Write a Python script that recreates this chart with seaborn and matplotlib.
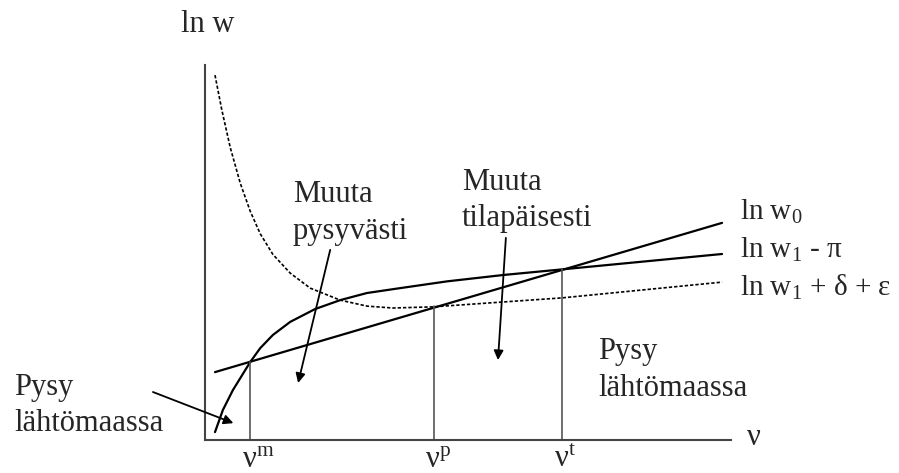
import matplotlib
matplotlib.use("Agg")
import matplotlib.pyplot as plt
import seaborn as sns

# kaavion käyrät (luettu kuvasta, kaavion omissa yksiköissä)
w0_x = [0.19, 9.83]
w0_y = [1.81, 5.79]

w1_pi_x = [0.19, 0.34, 0.53, 0.86, 1.05, 1.29, 1.62, 2.09, 2.57, 3.08,
           3.71, 4.60, 5.67, 6.79, 9.83]
w1_pi_y = [0.21, 0.80, 1.33, 2.08, 2.45, 2.80, 3.15, 3.49, 3.73, 3.92,
           4.05, 4.23, 4.40, 4.55, 4.96]

w1_de_x = [0.19, 0.32, 0.48, 0.67, 0.86, 1.05, 1.29, 1.62, 2.00, 2.57,
           3.08, 3.57, 4.33, 6.79, 9.83]
w1_de_y = [9.73, 8.80, 7.80, 6.85, 6.10, 5.50, 4.95, 4.45, 4.05, 3.73,
           3.57, 3.52, 3.55, 3.79, 4.21]

# kynnysarvot nu^m, nu^p, nu^t ja niiden korkeus
cut_x = [0.86, 4.35, 6.79]
cut_y = [2.08, 3.57, 4.56]
cut_labels = [r"ν$^{\mathrm{m}}$", r"ν$^{\mathrm{p}}$", r"ν$^{\mathrm{t}}$"]

curve_labels = [r"ln w$_{0}$", r"ln w$_{1}$ - π", r"ln w$_{1}$ + δ + ε"]
curve_label_y = [5.87, 4.85, 3.84]

sns.set_theme(style="white")
plt.rcParams["font.family"] = ["Liberation Serif", "DejaVu Serif"]
plt.rcParams["mathtext.fontset"] = "custom"
plt.rcParams["mathtext.rm"] = "Liberation Serif"
plt.rcParams["mathtext.it"] = "Liberation Serif:italic"

fig = plt.figure(figsize=(8.99, 4.73), dpi=100)
ax = fig.add_axes([205 / 899, 33 / 473, 526 / 899, 375 / 473])
ax.set_xlim(0, 10)
ax.set_ylim(0, 10)

sns.lineplot(x=w0_x, y=w0_y, ax=ax, color="black", lw=1.6, sort=False)
sns.lineplot(x=w1_pi_x, y=w1_pi_y, ax=ax, color="black", lw=1.6, sort=False)
sns.lineplot(x=w1_de_x, y=w1_de_y, ax=ax, color="black", lw=1.2,
             linestyle=(0, (2, 1.2)), sort=False)

for cx, cy, lab in zip(cut_x, cut_y, cut_labels):
    ax.plot([cx, cx], [0, cy], color="#555555", lw=1.2)
    ax.text(cx - 0.16, -0.72, lab, fontsize=22, ha="left", va="baseline",
            clip_on=False)

for ly, lab in zip(curve_label_y, curve_labels):
    ax.text(10.17, ly, lab, fontsize=21, ha="left", va="baseline", clip_on=False)

for s in ["top", "right"]:
    ax.spines[s].set_visible(False)
for s in ["left", "bottom"]:
    ax.spines[s].set_color("#444444")
    ax.spines[s].set_linewidth(1.5)
ax.set_xticks([])
ax.set_yticks([])

ax.text(0.06, 11.07, "ln w", fontsize=22, ha="center", va="center", clip_on=False)
ax.text(10.3, 0.08, "ν", fontsize=22, ha="left", va="center", clip_on=False)

kw = dict(fontsize=22, ha="left", va="top", linespacing=1.35, clip_on=False)
arrow = dict(arrowstyle="-|>", color="black", lw=1.3, mutation_scale=14,
             shrinkA=0, shrinkB=0)
ax.annotate("", xy=(1.77, 1.52), xytext=(2.38, 5.07), arrowprops=arrow)
ax.annotate("", xy=(5.57, 2.13), xytext=(5.72, 5.39), arrowprops=arrow)
ax.annotate("", xy=(0.54, 0.45), xytext=(-0.99, 1.28), arrowprops=arrow,
            annotation_clip=False)

ax.text(1.67, 6.92, "Muuta\npysyvästi", **kw)
ax.text(4.89, 7.26, "Muuta\ntilapäisesti", **kw)
ax.text(-3.63, 1.8, "Pysy\nlähtömaassa", **kw)
ax.text(7.47, 2.75, "Pysy\nlähtömaassa", **kw)

fig.savefig("out.png", dpi=100)
